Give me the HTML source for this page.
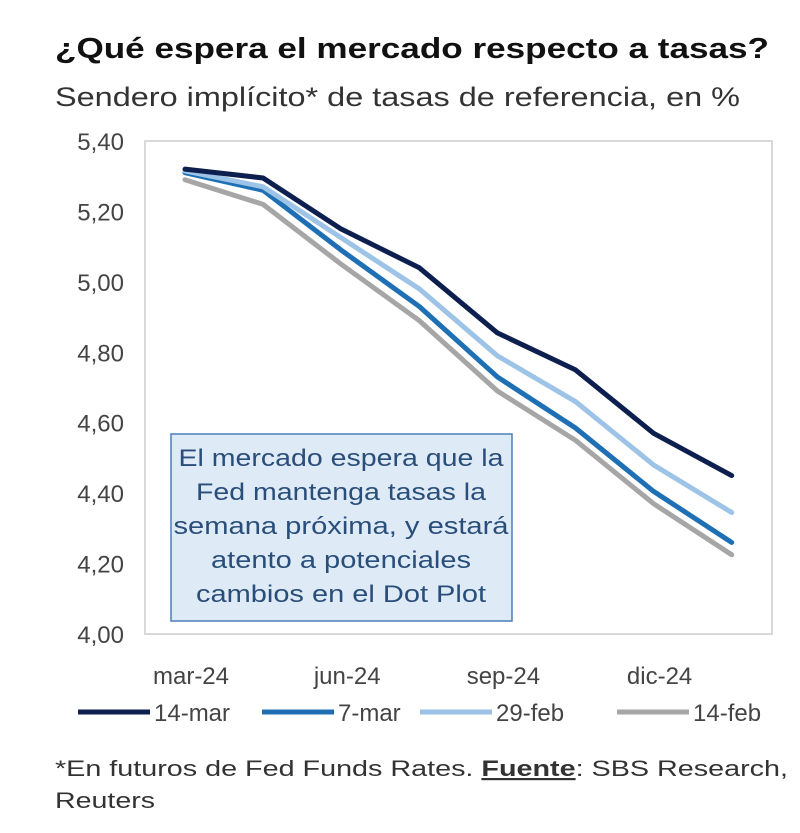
<!DOCTYPE html>
<html><head><meta charset="utf-8"><style>
body{margin:0;background:#fff;font-family:"Liberation Sans",sans-serif;}
#wrap{position:relative;width:800px;height:833px;overflow:hidden;}
</style></head><body><div id="wrap">
<svg id="c" width="800" height="833"></svg>
</div>
<script>
const categories=["mar-24","may-24","jun-24","jul-24","sep-24","nov-24","dic-24","ene-25"];
const showLabel=[true,false,true,false,true,false,true,false];
const s14mar=[5.32,5.295,5.15,5.04,4.855,4.75,4.57,4.45];
const s7mar=[5.31,5.26,5.09,4.93,4.73,4.585,4.405,4.26];
const s29feb=[5.315,5.27,5.125,4.98,4.79,4.66,4.48,4.345];
const s14feb=[5.29,5.22,5.05,4.89,4.69,4.55,4.37,4.225];
const seriesNames=["14-mar","7-mar","29-feb","14-feb"];
const yTicks=[4.0,4.2,4.4,4.6,4.8,5.0,5.2,5.4];
const NS="http://www.w3.org/2000/svg";
const svg=document.getElementById('c');
function el(t,a,txt){const e=document.createElementNS(NS,t);for(const k in a)e.setAttribute(k,a[k]);if(txt!==undefined)e.textContent=txt;svg.appendChild(e);return e;}
const L=145,R=772,T=141,B=634,ymin=4.0,ymax=5.4;
const x0=185,dx=78.1;
function X(i){return x0+i*dx;}
function Y(v){return B-(v-ymin)/(ymax-ymin)*(B-T);}
let t;
t=el('text',{x:55,y:58,'font-size':29,'font-weight':'bold',fill:'#111',textLength:714,lengthAdjust:'spacingAndGlyphs'},'¿Qué espera el mercado respecto a tasas?');

t=el('text',{x:55,y:106,'font-size':27,fill:'#333',textLength:685,lengthAdjust:'spacingAndGlyphs'},'Sendero implícito* de tasas de referencia, en %');

t=el('rect',{x:L,y:T,width:R-L,height:B-T,fill:'none',stroke:'#d9d9d9','stroke-width':2});

yTicks.forEach(v=>{const e=el('text',{x:124,y:Y(v)+9,'font-size':24,fill:'#444','text-anchor':'end'},v.toFixed(2).replace('.',','));
});
categories.forEach((c,i)=>{if(!showLabel[i])return;const e=el('text',{x:X(i)+6,y:684,'font-size':24,fill:'#444','text-anchor':'middle'},c);
});
const all=[[s14feb,'#a6a6a6','series-14-feb'],[s7mar,'#1f6fb5','series-7-mar'],[s29feb,'#9dc3e6','series-29-feb'],[s14mar,'#0d1f4f','series-14-mar']];
all.forEach(([d,col,n])=>{const p=el('polyline',{points:d.map((v,i)=>X(i)+','+Y(v)).join(' '),fill:'none',stroke:col,'stroke-width':5,'stroke-linejoin':'round','stroke-linecap':'round'});
});
t=el('rect',{x:171,y:434,width:341,height:187,fill:'#deebf7',stroke:'#4a7fb5','stroke-width':1.5});

const annLines=["El mercado espera que la","Fed mantenga tasas la","semana próxima, y estará","atento a potenciales","cambios en el Dot Plot"];
const annW=[325,290,335,260,290];
annLines.forEach((s,i)=>{
const e=el('text',{x:341,y:466+i*34,'font-size':24,fill:'#2a4e7a','text-anchor':'middle',textLength:annW[i],lengthAdjust:'spacingAndGlyphs'},s);
});
const legCols=['#0d1f4f','#1f6fb5','#9dc3e6','#a6a6a6'];
const legX=[78,262,420,617];
seriesNames.forEach((n,i)=>{
const ln=el('line',{x1:legX[i],y1:712,x2:legX[i]+72,y2:712,stroke:legCols[i],'stroke-width':5});

const e=el('text',{x:legX[i]+76,y:721,'font-size':24,fill:'#444'},n);
});
t=el('text',{x:55,y:776,'font-size':22,fill:'#333',textLength:733,lengthAdjust:'spacingAndGlyphs'});
t.innerHTML='*En futuros de Fed Funds Rates. <tspan font-weight="bold" text-decoration="underline">Fuente</tspan>: SBS Research,';

t=el('text',{x:55,y:808,'font-size':22,fill:'#333',textLength:100,lengthAdjust:'spacingAndGlyphs'},'Reuters');

</script></body></html>
